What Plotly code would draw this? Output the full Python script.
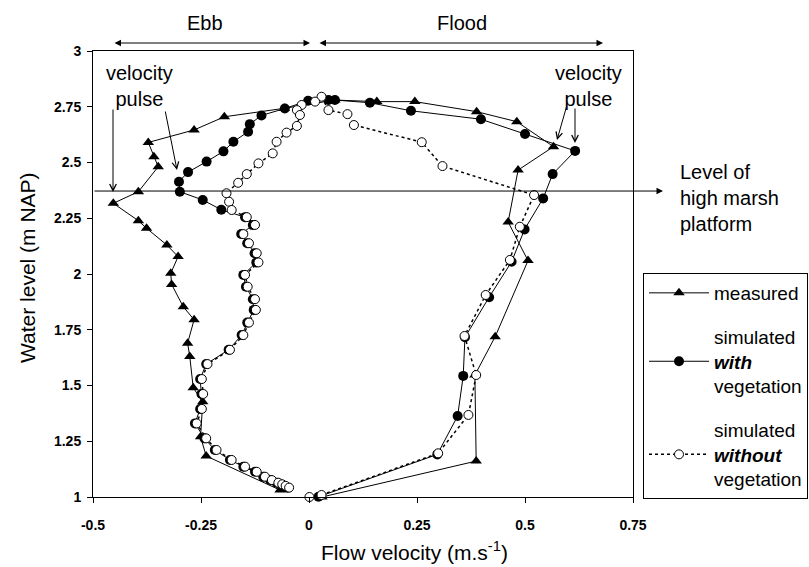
import plotly.graph_objects as go

# ---------------- data ----------------
meas_v = [0.03, 0.387, 0.384, 0.431, 0.507, 0.461, 0.484, 0.566, 0.481, 0.388, 0.245, 0.157, 0.06,
          -0.057, -0.196, -0.266, -0.372, -0.359, -0.349, -0.395, -0.453, -0.395, -0.376, -0.329,
          -0.303, -0.320, -0.318, -0.291, -0.266, -0.281, -0.276, -0.268, -0.246, -0.251, -0.238, -0.067]
meas_y = [1.0, 1.161, 1.547, 1.719, 2.06, 2.233, 2.466, 2.571, 2.683, 2.728, 2.773, 2.773, 2.78,
          2.743, 2.705, 2.646, 2.59, 2.526, 2.481, 2.369, 2.317, 2.239, 2.205, 2.130,
          2.078, 2.003, 1.953, 1.853, 1.795, 1.690, 1.630, 1.490, 1.427, 1.270, 1.184, 1.031]

with_v = [0.022, 0.297, 0.344, 0.357, 0.361, 0.417, 0.469, 0.499, 0.542, 0.564,
          0.616, 0.500, 0.398, 0.236, 0.141, 0.060, 0.045, -0.002, -0.056, -0.110,
          -0.137, -0.141, -0.175, -0.198, -0.237, -0.280, -0.301, -0.299, -0.246, -0.203,
          -0.148, -0.130, -0.157, -0.143, -0.126, -0.122, -0.152, -0.146, -0.130, -0.128,
          -0.143, -0.156, -0.186, -0.238, -0.252, -0.249, -0.252, -0.264, -0.242, -0.218,
          -0.183, -0.152, -0.125, -0.106, -0.090, -0.075, -0.066, -0.058, -0.050]
with_y = [1.001, 1.191, 1.363, 1.543, 1.716, 1.896, 2.055, 2.200, 2.339, 2.448,
          2.552, 2.628, 2.694, 2.732, 2.768, 2.780, 2.780, 2.777, 2.742, 2.711,
          2.672, 2.638, 2.593, 2.550, 2.504, 2.457, 2.414, 2.369, 2.332, 2.288,
          2.255, 2.220, 2.179, 2.138, 2.093, 2.052, 1.996, 1.943, 1.887, 1.839,
          1.782, 1.726, 1.660, 1.596, 1.529, 1.462, 1.395, 1.330, 1.263, 1.211,
          1.166, 1.136, 1.113, 1.091, 1.076, 1.064, 1.057, 1.050, 1.042]

wo_v = [0.001, 0.029, 0.299, 0.369, 0.387, 0.360, 0.409, 0.465, 0.488, 0.521,
        0.309, 0.261, 0.104, 0.089, 0.045, 0.029, 0.014, -0.017, -0.028, -0.021,
        -0.028, -0.052, -0.075, -0.084, -0.117, -0.144, -0.164, -0.191, -0.185, -0.179,
        -0.144, -0.125, -0.152, -0.139, -0.121, -0.117, -0.148, -0.142, -0.125, -0.123,
        -0.139, -0.152, -0.183, -0.235, -0.248, -0.245, -0.248, -0.260, -0.238, -0.214,
        -0.179, -0.148, -0.121, -0.102, -0.086, -0.071, -0.062, -0.054, -0.046]
wo_y = [1.000, 1.009, 1.196, 1.368, 1.547, 1.722, 1.906, 2.063, 2.212, 2.354,
        2.484, 2.591, 2.668, 2.717, 2.735, 2.795, 2.773, 2.758, 2.735, 2.713,
        2.664, 2.634, 2.593, 2.541, 2.496, 2.448, 2.409, 2.362, 2.324, 2.287,
        2.255, 2.220, 2.179, 2.138, 2.093, 2.052, 1.996, 1.943, 1.887, 1.839,
        1.782, 1.726, 1.660, 1.596, 1.529, 1.462, 1.395, 1.330, 1.263, 1.211,
        1.166, 1.136, 1.113, 1.091, 1.076, 1.064, 1.057, 1.050, 1.042]

series_names = ["measured",
                "simulated<br><b><i>with</i></b><br>vegetation",
                "simulated<br><b><i>without</i></b><br>vegetation"]

x_tickvals = [-0.5, -0.25, 0, 0.25, 0.5, 0.75]
x_ticktext = ["-0.5", "-0.25", "0", "0.25", "0.5", "0.75"]
y_tickvals = [1, 1.25, 1.5, 1.75, 2, 2.25, 2.5, 2.75, 3]
y_ticktext = ["1", "1.25", "1.5", "1.75", "2", "2.25", "2.5", "2.75", "3"]

MARSH_LEVEL = 2.372

FONT = "Liberation Sans, Arial, Helvetica, sans-serif"
W, H = 809, 567
L, R, T, B = 93, 176, 51, 70
PW, PH = W - L - R, H - T - B


def px(xp):
    return (xp - L) / PW


def py(yp):
    return (H - B - yp) / PH


fig = go.Figure()

fig.add_trace(go.Scatter(
    x=meas_v, y=meas_y, mode="lines+markers", name=series_names[0],
    line=dict(color="black", width=1),
    marker=dict(symbol="triangle-up", size=10, color="black"),
    cliponaxis=False, legendgroup="a"))

fig.add_trace(go.Scatter(
    x=with_v, y=with_y, mode="lines+markers", name=series_names[1],
    line=dict(color="black", width=1),
    marker=dict(symbol="circle", size=10, color="black"),
    cliponaxis=False, legendgroup="b"))

fig.add_trace(go.Scatter(
    x=wo_v, y=wo_y, mode="lines+markers", name=series_names[2],
    line=dict(color="black", width=1.5, dash="dot"),
    marker=dict(symbol="circle", size=9, color="white", line=dict(color="black", width=1)),
    cliponaxis=False, legendgroup="c"))


def label(text, xp, yp, size=20, **kw):
    d = dict(text=text, xref="paper", yref="paper", x=px(xp), y=py(yp),
             xanchor="center", yanchor="middle", showarrow=False, font=dict(size=size))
    d.update(kw)
    return d


def arrow(hx, hy, tx, ty, head=2, side="end", size=1.2):
    return dict(text="", xref="paper", yref="paper", x=px(hx), y=py(hy),
                ax=tx - hx, ay=ty - hy, showarrow=True, arrowhead=head, arrowside=side,
                arrowsize=size, arrowwidth=1, arrowcolor="black")


ann = []
# axis titles
ann.append(label("Flow velocity (m.s<sup>-1</sup>)", 414, 551, size=21))
ann.append(label("Water level (m NAP)", 27, 268, size=21, textangle=-90))
# Ebb / Flood
ann.append(label("Ebb", 205, 23))
ann.append(label("Flood", 462, 23))
ann.append(arrow(310, 43, 113, 43, head=2, side="end+start", size=1.3))
ann.append(arrow(603, 43, 318, 43, head=2, side="end+start", size=1.3))
# velocity pulse labels
ann.append(label("velocity<br>pulse", 139, 86))
ann.append(label("velocity<br>pulse", 588, 86))
for hx, hy, tx, ty in [(113, 192, 113, 108), (177, 170, 165, 110),
                       (557, 140, 567, 105), (575, 143, 575, 107)]:
    ann.append(arrow(hx, hy, tx, ty, head=5, size=1.3))
# high marsh platform level
ann.append(dict(text="", xref="paper", yref="y", x=px(663), y=MARSH_LEVEL,
                ax=L - 663, ay=0, showarrow=True, arrowhead=2, arrowsize=1.3,
                arrowwidth=1, arrowcolor="black"))
ann.append(label("Level of<br>high marsh<br>platform", 678, 198, size=20,
                 xanchor="left", align="left"))

fig.update_layout(
    width=W, height=H,
    margin=dict(l=L, r=R, t=T, b=B, autoexpand=False),
    paper_bgcolor="white", plot_bgcolor="white",
    font=dict(family=FONT, color="black", size=19),
    showlegend=True,
    legend=dict(x=px(643), y=py(273), xanchor="left", yanchor="top",
                bordercolor="black", borderwidth=1, bgcolor="white",
                font=dict(size=19), tracegroupgap=16, traceorder="grouped",
                itemwidth=60),
    annotations=ann,
)

fig.update_xaxes(range=[-0.5, 0.75], tickvals=x_tickvals, ticktext=x_ticktext,
                 showline=True, linecolor="black", linewidth=1, mirror=True,
                 ticks="outside", ticklen=5, tickcolor="black", showgrid=False,
                 zeroline=False, ticklabelstandoff=10,
                 tickfont=dict(size=14, weight="bold", family=FONT))
fig.update_yaxes(range=[1, 3], tickvals=y_tickvals, ticktext=y_ticktext,
                 showline=True, linecolor="black", linewidth=1, mirror=True,
                 ticks="outside", ticklen=5, tickcolor="black", showgrid=False,
                 zeroline=False, ticklabelstandoff=3,
                 tickfont=dict(size=14, weight="bold", family=FONT))

fig.write_html("out.html", config={"displayModeBar": False},
               post_script="document.body.style.margin='0px';")
